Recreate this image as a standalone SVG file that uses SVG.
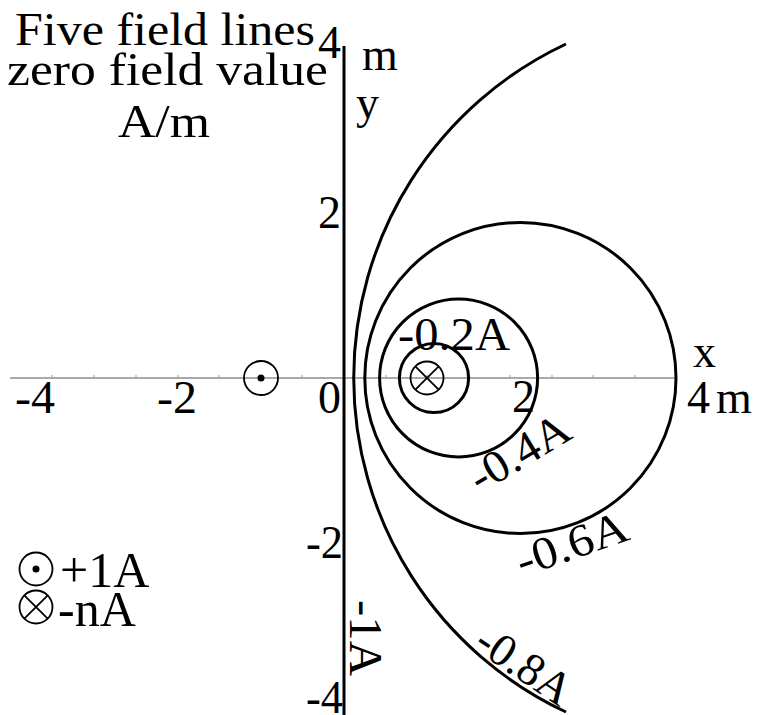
<svg xmlns="http://www.w3.org/2000/svg" width="758" height="715" viewBox="0 0 758 715">
<style>
text{font-family:"Liberation Serif","DejaVu Serif",serif;font-size:46px;fill:#000}
.lg{font-size:50px}
.fl{fill:none;stroke:#000;stroke-width:3}
.ax{stroke:#555;stroke-width:1.2}
.tk{stroke:#999;stroke-width:1}
.w{fill:none;stroke:#000;stroke-width:1.8}
</style>
<rect width="758" height="715" fill="#fff"/>
<g id="axes">
<line class="ax" x1="10" y1="378" x2="677" y2="378"/>
<g class="tk">
<line x1="52" y1="375" x2="52" y2="378"/><line x1="94" y1="375" x2="94" y2="378"/><line x1="136" y1="375" x2="136" y2="378"/><line x1="178" y1="375" x2="178" y2="378"/><line x1="219" y1="375" x2="219" y2="378"/><line x1="261" y1="375" x2="261" y2="378"/><line x1="302" y1="375" x2="302" y2="378"/>
<line x1="386" y1="375" x2="386" y2="378"/><line x1="427" y1="375" x2="427" y2="378"/><line x1="469" y1="375" x2="469" y2="378"/><line x1="510" y1="375" x2="510" y2="378"/><line x1="552" y1="375" x2="552" y2="378"/><line x1="593" y1="375" x2="593" y2="378"/><line x1="635" y1="375" x2="635" y2="378"/>
</g>
<text x="15" y="413" textLength="40" lengthAdjust="spacingAndGlyphs">-4</text>
<text x="157" y="413" textLength="40" lengthAdjust="spacingAndGlyphs">-2</text>
<text x="318" y="413">0</text>
<text x="512" y="412">2</text>
<text x="687" y="413">4</text>
<text x="716" y="413">m</text>
<text x="693" y="367">x</text>
<text x="318" y="58">4</text>
<text x="362" y="70">m</text>
<text x="356" y="118">y</text>
<text x="318" y="228">2</text>
<text x="306" y="558" textLength="37" lengthAdjust="spacingAndGlyphs">-2</text>
<text x="306" y="713" textLength="37" lengthAdjust="spacingAndGlyphs">-4</text>
</g>
<g id="title">
<text x="15" y="45" textLength="300" lengthAdjust="spacingAndGlyphs">Five field lines</text>
<text x="7" y="85" textLength="321" lengthAdjust="spacingAndGlyphs">zero field value</text>
<text x="118" y="137" textLength="92" lengthAdjust="spacingAndGlyphs">A/m</text>
</g>
<g id="connectors">
<line x1="344" y1="46" x2="344" y2="715" stroke="#000" stroke-width="3"/>
<circle class="fl" cx="434" cy="378" r="34.6" stroke-width="2.8"/>
<circle class="fl" cx="458.6" cy="378" r="79" stroke-width="2.8"/>
<circle class="fl" cx="520.4" cy="378" r="155.6" stroke-width="3.4"/>
<path class="fl" d="M566,44 A368.9,368.9 0 0 0 566,712" stroke-width="3.8"/>
</g>
<g id="wire-plus">
<circle class="w" cx="261" cy="378" r="17"/>
<circle cx="261" cy="378" r="3.5"/>
</g>
<g id="wire-minus">
<circle class="w" cx="427" cy="378" r="16.5"/>
<path class="w" d="M415.3,366.3 L438.7,389.7 M438.7,366.3 L415.3,389.7"/>
</g>
<g id="labels">
<text x="398" y="350" textLength="112" lengthAdjust="spacingAndGlyphs">-0.2A</text>
<text transform="translate(480,494) rotate(-31)" textLength="110" lengthAdjust="spacingAndGlyphs">-0.4A</text>
<text transform="translate(522,577) rotate(-19)" textLength="116" lengthAdjust="spacingAndGlyphs">-0.6A</text>
<text transform="translate(472,648) rotate(34)" textLength="106" lengthAdjust="spacingAndGlyphs">-0.8A</text>
<text transform="translate(350,600) rotate(90)" textLength="76" lengthAdjust="spacingAndGlyphs">-1A</text>
</g>
<g id="legend">
<circle class="w" cx="36" cy="569" r="16.5"/>
<circle cx="36" cy="569" r="3.5"/>
<text class="lg" x="60" y="587">+1A</text>
<circle class="w" cx="36" cy="607" r="16.5"/>
<path class="w" d="M24.3,595.3 L47.7,618.7 M47.7,595.3 L24.3,618.7"/>
<text class="lg" x="58" y="626">-nA</text>
</g>
</svg>
